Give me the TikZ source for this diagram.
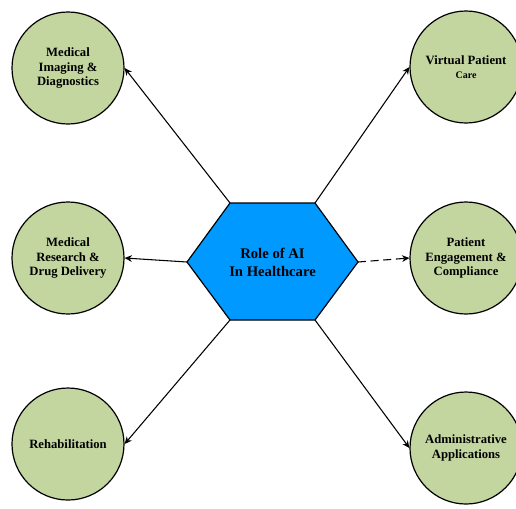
\documentclass[tikz,border=0pt]{standalone}
\usepackage{fontspec}
\setmainfont{Liberation Serif}
\usetikzlibrary{arrows.meta}
\definecolor{leafgreen}{RGB}{195,214,160}
\definecolor{hexblue}{RGB}{0,153,255}
\tikzset{
	topic/.style={circle, draw=black, line width=0.9pt, fill=leafgreen, minimum size=84pt, inner sep=1pt, align=center, font=\bfseries\fontsize{9.5}{11}\selectfont},
	link/.style={line width=0.8pt, -{Stealth[length=5.5pt,width=5pt]}}
}

\begin{document}
\begin{tikzpicture}[x=0.75pt, y=-0.75pt]
			%%%%% START %%%%%
			\useasboundingbox (0, 0) rectangle (516, 508);
			
			\coordinate (hexW) at (187, 262);
			\coordinate (hexNW) at (230, 203);
			\coordinate (hexNE) at (315, 203);
			\coordinate (hexE) at (358, 262);
			\coordinate (hexSE) at (315, 320);
			\coordinate (hexSW) at (230, 320);
			\draw[line width=0.9pt, fill=hexblue] (hexW) -- (hexNW) -- (hexNE) -- (hexE) -- (hexSE) -- (hexSW) -- cycle;
			\node[align=center, font=\bfseries\fontsize{11}{13.5}\selectfont] (hub) at (272.5, 262) {Role of AI\\In Healthcare};
			
			\node[topic] (imaging) at (68, 68) {Medical\\Imaging \&\\Diagnostics};
			\node[topic] (research) at (68, 258) {Medical\\Research \&\\Drug Delivery};
			\node[topic] (rehab) at (68, 444) {Rehabilitation};
			
			\node[topic] (virtual) at (466, 67) {Virtual Patient\\{\fontsize{7.5}{9}\selectfont Care}};
			\node[topic] (engage) at (466, 258) {Patient\\Engagement \&\\Compliance};
			\node[topic] (admin) at (466, 448) {Administrative\\Applications};
			
			\draw[link] (hexNW) -- (imaging.east);
			\draw[link] (hexW) -- (research.east);
			\draw[link] (hexSW) -- (rehab.east);
			
			\draw[link] (hexNE) -- (virtual.west);
			\draw[link, dash pattern=on 6pt off 3.5pt] (hexE) -- (engage.west);
			\draw[link] (hexSE) -- (admin.west);
			
			%%%%% END %%%%%
\end{tikzpicture}
\end{document}
